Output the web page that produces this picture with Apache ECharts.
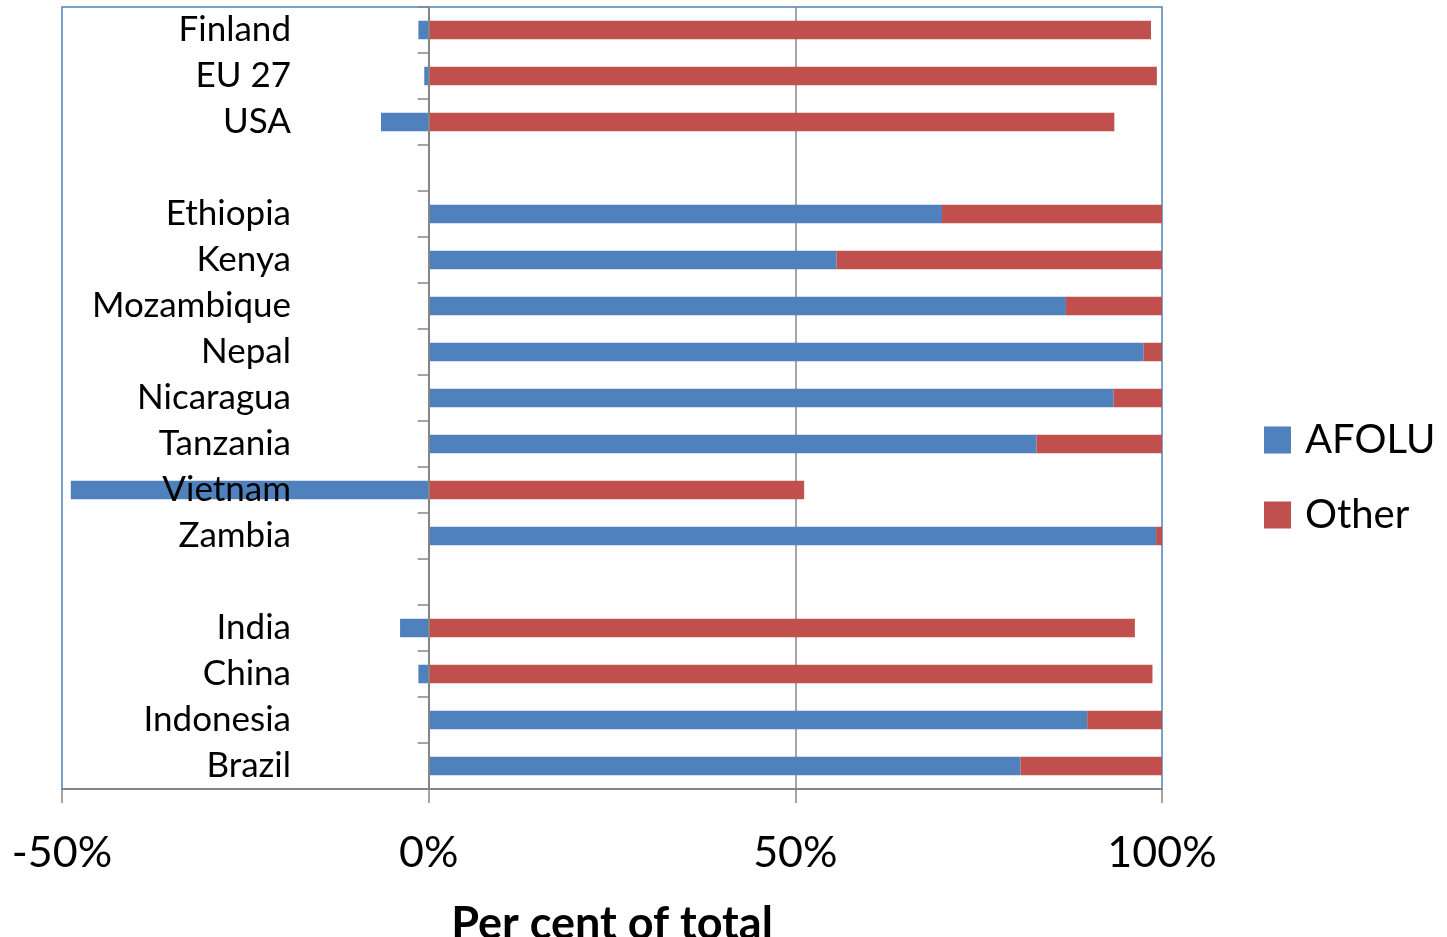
<!DOCTYPE html>
<html>
<head>
<meta charset="utf-8">
<title>AFOLU share of total emissions</title>
<script src="https://cdn.jsdelivr.net/npm/echarts@6/dist/echarts.min.js"></script>
<style>
  html, body { margin: 0; padding: 0; background: #ffffff; }
  #chart { width: 1447px; height: 937px; }
</style>
</head>
<body>
<div id="chart"></div>
<script>
// Countries / regions, top to bottom; empty entries separate the groups
const categories = ['Finland', 'EU 27', 'USA', '', 'Ethiopia', 'Kenya', 'Mozambique', 'Nepal',
  'Nicaragua', 'Tanzania', 'Vietnam', 'Zambia', '', 'India', 'China', 'Indonesia', 'Brazil'];

// Share of total emissions (per cent)
const afolu = [-1.4, -0.6, -6.5, null, 70.0, 55.6, 86.9, 97.5, 93.4, 82.9, -48.8, 99.2, null, -3.9, -1.4, 89.8, 80.7];
const other = [98.5, 99.3, 93.5, null, 30.0, 44.4, 13.1, 2.5, 6.6, 17.1, 51.2, 0.8, null, 96.3, 98.7, 10.2, 19.3];

const seriesNames = ['AFOLU', 'Other'];
const xTitle = 'Per cent of total';

const FONT = 'Lato';
const GREY = '#868686';

const chart = echarts.init(document.getElementById('chart'), null, { renderer: 'canvas' });

chart.setOption({
  animation: false,
  backgroundColor: '#ffffff',
  textStyle: { fontFamily: FONT, color: '#000000' },
  grid: {
    left: 62, right: 285, top: 7, bottom: 148,
    containLabel: false,
    outerBoundsMode: 'none',
    show: true,
    borderColor: '#4f81bd',
    borderWidth: 1.5,
    backgroundColor: 'transparent'
  },
  legend: {
    orient: 'vertical',
    left: 1264,
    top: 420,
    padding: 0,
    itemWidth: 27,
    itemHeight: 27,
    itemGap: 35,
    icon: 'rect',
    data: seriesNames,
    textStyle: { fontFamily: FONT, fontSize: 40, color: '#000000', padding: [0, 0, 0, 9] }
  },
  xAxis: {
    type: 'value',
    min: -50,
    max: 100,
    interval: 50,
    name: xTitle,
    nameLocation: 'middle',
    nameGap: 113,
    nameTextStyle: { fontFamily: FONT, fontSize: 45, fontWeight: 'bold', color: '#000000' },
    axisLine: { show: true, lineStyle: { color: GREY, width: 2 } },
    axisTick: { show: true, length: 14, lineStyle: { color: GREY, width: 1.5 } },
    axisLabel: { formatter: '{value}%', fontSize: 43, margin: 43, color: '#000000', fontFamily: FONT },
    splitLine: { show: true, showMinLine: false, showMaxLine: false, lineStyle: { color: GREY, width: 1.5 } }
  },
  yAxis: {
    type: 'category',
    data: categories,
    inverse: true,
    z: 5, // category names and the zero line are drawn over the bars
    axisLine: { show: true, onZero: true, lineStyle: { color: GREY, width: 2 } },
    axisTick: { show: true, length: 11, interval: 0, lineStyle: { color: GREY, width: 1.5 } },
    // labels sit inside the plot, right-aligned a fixed distance left of the zero line
    axisLabel: { interval: 0, fontSize: 35, margin: -229, align: 'right', color: '#000000', fontFamily: FONT },
    splitLine: { show: false }
  },
  series: [
    {
      name: seriesNames[0],
      type: 'bar',
      stack: 'total',
      data: afolu,
      barWidth: 18.5,
      itemStyle: { color: '#4f81bd' }
    },
    {
      name: seriesNames[1],
      type: 'bar',
      stack: 'total',
      data: other,
      barWidth: 18.5,
      itemStyle: { color: '#c0504d' }
    }
  ]
});
</script>
</body>
</html>
